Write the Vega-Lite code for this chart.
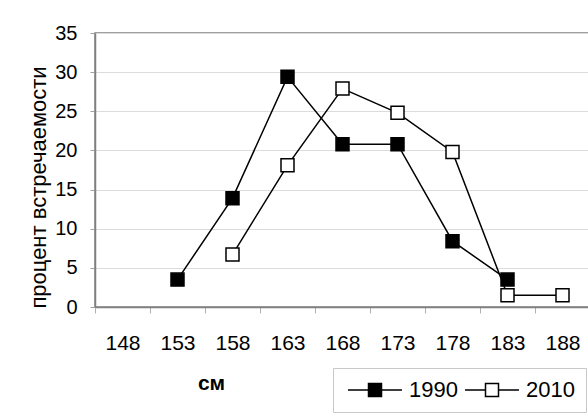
{
  "$schema": "https://vega.github.io/schema/vega-lite/v6.json",
  "autosize": {"type": "none"},
  "width": 495,
  "height": 274,
  "padding": {"left": 95, "top": 33, "right": 0, "bottom": 111},
  "background": "white",
  "config": {
    "font": "Liberation Sans",
    "view": {"stroke": "#808080", "strokeWidth": 1.5}
  },
  "data": {
    "values": [
      {"size": "153", "year": "1990", "pct": 3.5},
      {"size": "158", "year": "1990", "pct": 13.9},
      {"size": "163", "year": "1990", "pct": 29.4},
      {"size": "168", "year": "1990", "pct": 20.8},
      {"size": "173", "year": "1990", "pct": 20.8},
      {"size": "178", "year": "1990", "pct": 8.4},
      {"size": "183", "year": "1990", "pct": 3.5},
      {"size": "158", "year": "2010", "pct": 6.7},
      {"size": "163", "year": "2010", "pct": 18.1},
      {"size": "168", "year": "2010", "pct": 27.9},
      {"size": "173", "year": "2010", "pct": 24.8},
      {"size": "178", "year": "2010", "pct": 19.8},
      {"size": "183", "year": "2010", "pct": 1.5},
      {"size": "188", "year": "2010", "pct": 1.5}
    ]
  },
  "encoding": {
    "x": {
      "field": "size",
      "type": "ordinal",
      "bandPosition": 0.5,
      "scale": {
        "type": "band",
        "domain": ["148", "153", "158", "163", "168", "173", "178", "183", "188"],
        "paddingInner": 0,
        "paddingOuter": 0
      },
      "axis": {
        "title": "см",
        "titleFont": "Liberation Sans",
        "titleFontSize": 21,
        "titleFontWeight": "bold",
        "titleColor": "black",
        "titleX": 116,
        "titleY": 76,
        "titleAlign": "center",
        "titleBaseline": "middle",
        "labelAngle": 0,
        "labelFontSize": 21,
        "labelColor": "black",
        "labelPadding": 19,
        "tickBand": "extent",
        "tickSize": 6,
        "tickColor": "#b0b0b0",
        "domainColor": "#808080",
        "domainWidth": 1.5,
        "grid": false
      }
    },
    "y": {
      "field": "pct",
      "type": "quantitative",
      "scale": {"domain": [0, 35], "nice": false},
      "axis": {
        "title": "процент встречаемости",
        "titleFont": "Liberation Sans",
        "titleFontSize": 22,
        "titleFontWeight": "normal",
        "titleColor": "black",
        "titleX": -50,
        "titleY": 154,
        "titleAngle": -90,
        "titleAlign": "center",
        "titleBaseline": "alphabetic",
        "values": [0, 5, 10, 15, 20, 25, 30, 35],
        "labelFontSize": 20,
        "labelColor": "black",
        "labelPadding": 13,
        "tickSize": 5,
        "tickColor": "#a0a0a0",
        "domainColor": "#808080",
        "domainWidth": 1.5,
        "grid": true,
        "gridColor": "#dcdcdc",
        "gridWidth": 1.2
      }
    }
  },
  "layer": [
    {
      "mark": {"type": "line", "color": "black", "strokeWidth": 1.5},
      "encoding": {"detail": {"field": "year", "type": "nominal"}}
    },
    {
      "mark": {"type": "point", "shape": "square", "size": 169, "stroke": "black", "strokeWidth": 1.5, "opacity": 1, "filled": false},
      "encoding": {
        "fill": {
          "field": "year",
          "type": "nominal",
          "scale": {"domain": ["1990", "2010"], "range": ["black", "white"]},
          "legend": {
            "title": null,
            "orient": "none",
            "legendX": 238,
            "legendY": 335,
            "direction": "horizontal",
            "symbolType": "M-4.15,0L-1,0M1,0L4.15,0M-1,-1L1,-1L1,1L-1,1Z",
            "symbolSize": 169,
            "symbolStrokeColor": "black",
            "symbolStrokeWidth": 1.5,
            "symbolOffset": 20,
            "labelOffset": 23,
            "labelFontSize": 22,
            "labelColor": "black",
            "labelFont": "Liberation Sans",
            "columnPadding": 3,
            "padding": 11,
            "strokeColor": "#c8c8c8",
            "fillColor": "white"
          }
        }
      }
    }
  ]
}
